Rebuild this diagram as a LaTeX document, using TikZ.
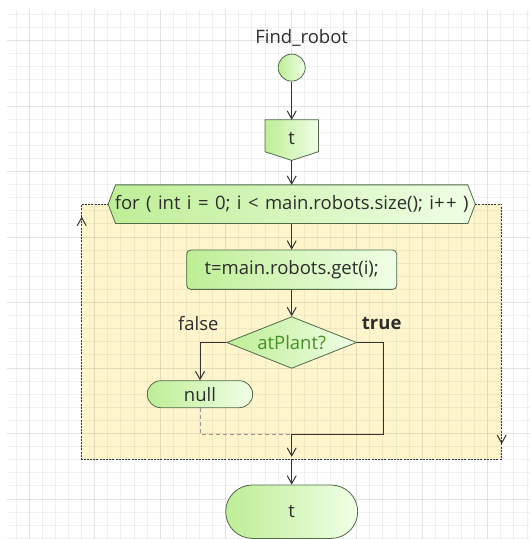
\documentclass[tikz,border=0pt]{standalone}
\usepackage{fontspec}
\setmainfont{Open Sans}
\usetikzlibrary{arrows.meta,shapes.geometric,calc}
\pgfdeclarelayer{bg}
\pgfdeclarelayer{shp}
\pgfsetlayers{bg,shp,main}
\definecolor{txt}{RGB}{45,45,45}
\definecolor{gl}{RGB}{190,238,150}
\definecolor{gr}{RGB}{240,255,230}
\definecolor{bord}{RGB}{80,105,75}
\definecolor{loopfill}{RGB}{255,245,204}
\definecolor{plantgreen}{RGB}{68,145,35}
\definecolor{lnc}{RGB}{51,51,51}
\definecolor{dashc}{RGB}{150,150,150}
\begin{document}
\begin{tikzpicture}[x=1pt,y=-1pt,
  every node/.style={font=\fontsize{18.5}{22}\selectfont, text=txt},
  flow/.style={draw=bord, line width=0.8pt, left color=gl, right color=gr, inner sep=0pt},
  plain/.style={inner sep=0pt},
  shapefill/.style={draw=bord, line width=0.8pt, left color=gl, right color=gr},
  conn/.style={draw=lnc, line width=1pt, -{Straight Barb[length=8pt,width=9pt]}},
  solidline/.style={draw=lnc, line width=1pt},
  dashline/.style={draw=dashc, line width=1pt, dash pattern=on 4pt off 3pt},
  loopline/.style={draw=lnc, line width=0.9pt, dash pattern=on 2pt off 1.2pt},
  minorgrid/.style={draw=black, opacity=0.055, line width=1pt},
  majorgrid/.style={draw=black, opacity=0.05, line width=1pt}
]
\useasboundingbox (0,0) rectangle (530,539);
\begin{pgfonlayer}{bg}
  \fill[white] (0,0) rectangle (530,539);
  \fill[loopfill] (81.7,204.2) rectangle (501.7,459.3);
  \foreach \i in {0,...,39} {
    \pgfmathsetmacro\xx{16.1+13.1*\i}
    \draw[minorgrid] (\xx,10) -- (\xx,539);
  }
  \foreach \i in {0,...,40} {
    \pgfmathsetmacro\yy{14.3+13.1*\i}
    \draw[minorgrid] (7,\yy) -- (530,\yy);
  }
  \foreach \i in {0,...,7} {
    \pgfmathsetmacro\xx{29.2+65.5*\i}
    \draw[majorgrid] (\xx,10) -- (\xx,539);
    \pgfmathsetmacro\yy{40.5+65.5*\i}
    \draw[majorgrid] (7,\yy) -- (530,\yy);
  }
\end{pgfonlayer}

% nodes
\node[plain] (title) at (301.7,38) {Find\_robot};
\node[flow, circle, minimum size=27pt] (start) at (291.7,67.6) {};
\node[plain, minimum width=53pt, minimum height=40.2pt] (pent) at (291.7,140.1) {\raisebox{3.4pt}{t}};
\node[plain, minimum width=366.7pt, minimum height=38.3pt] (for) at (291.7,204.2) {\spaceskip=6.4pt for ( int i = 0; i < main.robots.size(); i+\kern1.5pt+ )};
\node[flow, rounded corners=4pt, minimum width=210pt, minimum height=39.3pt] (get) at (291.7,269.7) {t=main.robots.get(i);\hspace{10pt}};
\node[flow, diamond, aspect=2.5, minimum width=130pt, minimum height=51.7pt, text=plantgreen] (dia) at (291.7,342.5) {atPlant?};
\node[flow, rounded corners=13.5pt, minimum width=105.4pt, minimum height=27pt] (null) at (200,394.2) {null};
\node[flow, rounded corners=26.7pt, minimum width=132pt, minimum height=53.4pt] (end) at (291.7,511.7) {t};
\node[plain] (lfalse) at (198.3,323.3) {false};
\node[plain, font=\fontsize{18.5}{22}\selectfont\bfseries] (ltrue) at (381.7,323.3) {true};

% shapes drawn from node anchors
\begin{pgfonlayer}{shp}
  \path[shapefill] (pent.north west) -- (pent.north east) -- ([yshift=8.7pt]pent.south east)
     -- (pent.south) -- ([yshift=8.7pt]pent.south west) -- cycle;
  \path[shapefill] (for.west) -- ([xshift=7.4pt]for.north west) -- ([xshift=-7.4pt]for.north east)
     -- (for.east) -- ([xshift=-7.4pt]for.south east) -- ([xshift=7.4pt]for.south west) -- cycle;
\end{pgfonlayer}

% loop frame
\coordinate (c1) at (501.7,204.2);
\coordinate (c2) at (501.7,459.3);
\coordinate (c3) at (81.7,459.3);
\coordinate (c4) at (81.7,204.2);
\draw[loopline] (for.east) -- (c1) -- (c2) -- (c3) -- (c4) -- (for.west);
\coordinate (ra1) at (501.7,443.4);
\coordinate (ra2) at (501.7,444);
\coordinate (la1) at (81.7,217.3);
\coordinate (la2) at (81.7,216.7);
\draw[conn] (ra1) -- (ra2);
\draw[conn] (la1) -- (la2);

% connectors
\coordinate (merge) at (291.7,434);
\coordinate (lb) at (291.7,459.3);
\draw[conn] (start) -- (pent);
\draw[conn] (pent) -- (for);
\draw[conn] (for) -- (get);
\draw[conn] (get) -- (dia);
\draw[conn] (dia.west) -| (null.north);
\draw[solidline] (dia.east) -- ++(26.6pt,0) |- (merge);
\draw[dashline] (null.south) |- (merge);
\draw[conn, shorten >=2.5pt] (merge) -- (lb);
\draw[conn] (lb) -- (end);
\end{tikzpicture}
\end{document}
